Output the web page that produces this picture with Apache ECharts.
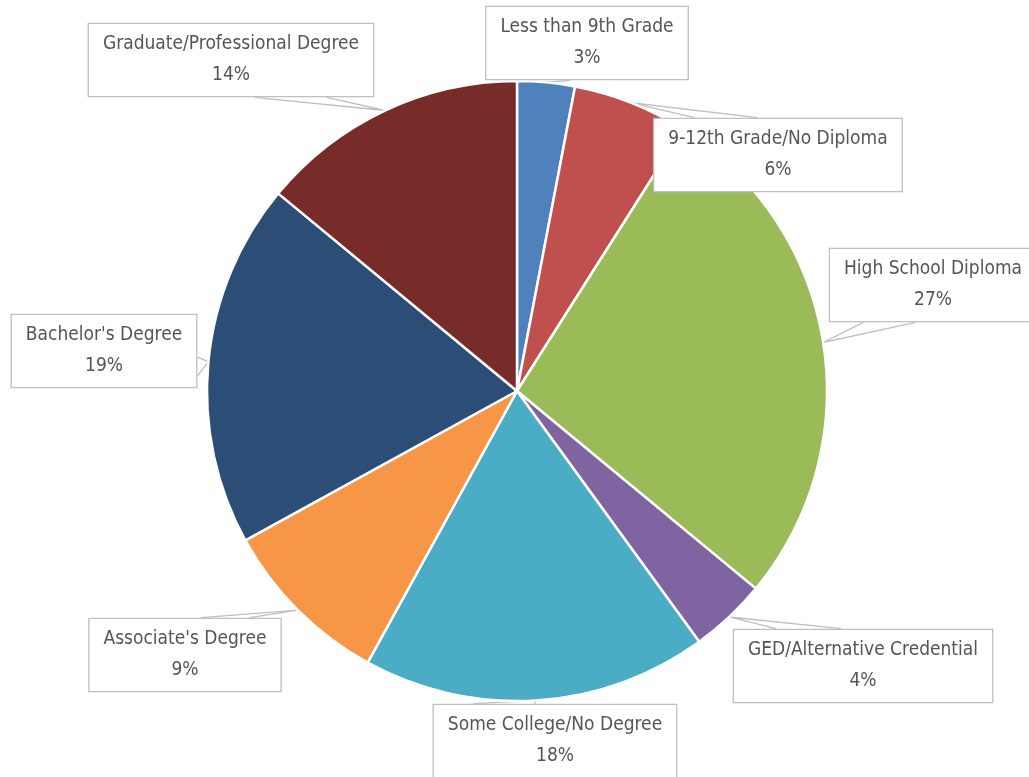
<!DOCTYPE html>
<html>
<head>
<meta charset="utf-8">
<script src="https://cdn.jsdelivr.net/npm/echarts@6/dist/echarts.min.js"></script>
<style>
  html, body { margin: 0; padding: 0; background: #ffffff; }
  #chart { width: 1029px; height: 777px; }
</style>
</head>
<body>
<div id="chart"></div>
<script>
// Educational attainment, share of population (%)
const categories = [
  'Less than 9th Grade',
  '9-12th Grade/No Diploma',
  'High School Diploma',
  'GED/Alternative Credential',
  'Some College/No Degree',
  "Associate's Degree",
  "Bachelor's Degree",
  'Graduate/Professional Degree'
];
const shares = [3, 6, 27, 4, 18, 9, 19, 14];
const sliceColors = ['#4F81BD', '#C0504D', '#9BBB59', '#8064A2', '#4BACC6', '#F79646', '#2C4D75', '#772C2A'];

// Centre of each callout box, in pixels
const calloutCentres = [
  [587, 43], [778, 155], [933, 285], [863, 666],
  [555, 741], [185, 655], [104, 351], [231, 60]
];

// Rectangular callout wedge: base sits on the box edge facing the tip
function wedge(rect, tip) {
  const cx = rect.x + rect.width / 2, cy = rect.y + rect.height / 2;
  const w = rect.width, h = rect.height;
  const dx = tip[0] - cx, dy = tip[1] - cy;
  const dq = dx * h / w;
  if (Math.abs(dq) > Math.abs(dy)) {
    const ex = dx > 0 ? rect.x + w : rect.x;
    const f = dy > 0 ? [7, 10] : [2, 5];
    return [[ex, rect.y + h * f[0] / 12], tip, [ex, rect.y + h * f[1] / 12]];
  }
  const ey = dy > 0 ? rect.y + h : rect.y;
  const f = dx > 0 ? [7, 10] : [2, 5];
  return [[rect.x + w * f[0] / 12, ey], tip, [rect.x + w * f[1] / 12, ey]];
}

const chart = echarts.init(document.getElementById('chart'), null, { renderer: 'canvas' });

chart.setOption({
  backgroundColor: '#ffffff',
  animation: false,
  series: [{
    type: 'pie',
    center: [517, 391],
    radius: 310,
    startAngle: 90,
    clockwise: true,
    avoidLabelOverlap: false,
    data: categories.map((name, i) => ({
      name,
      value: shares[i],
      itemStyle: { color: sliceColors[i] }
    })),
    itemStyle: { borderColor: '#ffffff', borderWidth: 2.5 },
    label: {
      show: true,
      position: 'outside',
      formatter: p => p.name + '\n' + p.value + '%',
      fontFamily: '"DejaVu Sans Condensed", "DejaVu Sans", sans-serif',
      fontSize: 19,
      lineHeight: 31,
      color: '#555555',
      align: 'center',
      backgroundColor: '#ffffff',
      borderColor: '#bfbfbf',
      borderWidth: 1.3,
      padding: [8, 14, 2, 14]
    },
    labelLine: {
      show: true,
      length: 10,
      length2: 10,
      lineStyle: { color: '#bfbfbf', width: 1.3 }
    },
    labelLayout: function (params) {
      const i = params.dataIndex;
      const c = calloutCentres[i];
      const w = params.labelRect.width, h = params.labelRect.height;
      const rect = { x: c[0] - w / 2, y: c[1] - h / 2, width: w, height: h };
      const tip = params.labelLinePoints[0];
      return {
        x: c[0],
        y: c[1],
        align: 'center',
        verticalAlign: 'middle',
        labelLinePoints: wedge(rect, [tip[0], tip[1]])
      };
    }
  }]
});
</script>
</body>
</html>
